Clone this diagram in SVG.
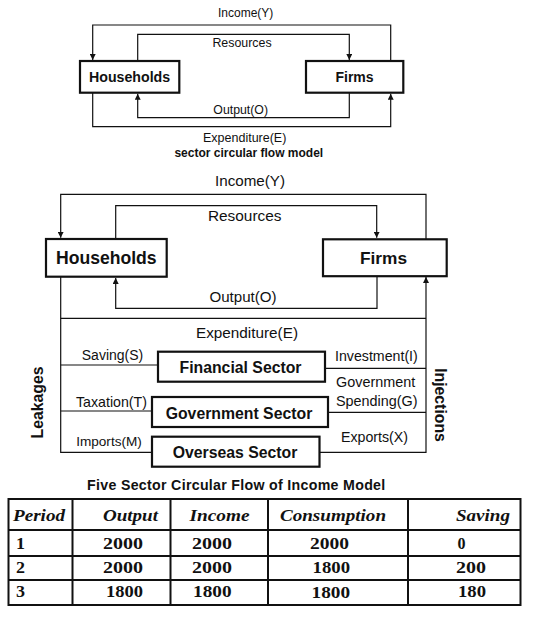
<svg xmlns="http://www.w3.org/2000/svg" width="535" height="623" viewBox="0 0 535 623">
<style>
.ln{fill:none;stroke:#111;stroke-width:1.2}
.bx{fill:#fff;stroke:#111;stroke-width:2.2}
.t{font-family:"Liberation Sans",Arial,sans-serif;fill:#111}
.b{font-weight:bold}
.tb{font-family:"Liberation Serif","Times New Roman",serif;font-weight:bold;fill:#111;font-size:16px}
.th{font-style:italic;font-size:17px}
.grid{stroke:#111;stroke-width:2;fill:none}
</style>
<defs>
<marker id="arr" viewBox="0 0 6 6" refX="6" refY="3" markerWidth="6" markerHeight="6" markerUnits="userSpaceOnUse" orient="auto">
<path d="M0,0 L6,3 L0,6 z" fill="#111"/>
</marker>
</defs>
<rect width="535" height="623" fill="#fff"/>

<g id="connectors">
<path class="ln" d="M390.7,61 V25 H92.7 V60" marker-end="url(#arr)"/>
<path class="ln" d="M137.7,61 V34.3 H349.3 V60" marker-end="url(#arr)"/>
<path class="ln" d="M349.3,92.7 V117.7 H137.7 V93.8" marker-end="url(#arr)"/>
<path class="ln" d="M92.7,92.7 V126.7 H390.7 V93.8" marker-end="url(#arr)"/>

<path class="ln" d="M426,239 V194.3 H60.7 V237.8" marker-end="url(#arr)"/>
<path class="ln" d="M115.7,239 V205.7 H376.7 V237.8" marker-end="url(#arr)"/>
<path class="ln" d="M377,276.7 V308.3 H115.7 V277.9" marker-end="url(#arr)"/>
<path class="ln" d="M60.7,276.7 V452.3 H426 V276.9" marker-end="url(#arr)"/>
<path class="ln" d="M60.7,318.3 H426"/>
<path class="ln" d="M60.7,365 H158"/>
<path class="ln" d="M60.7,411 H152"/>
<path class="ln" d="M324,368.3 H426"/>
<path class="ln" d="M328,412.3 H426"/>
</g>

<g id="top-title">
<text class="t" x="245.7" y="17.3" font-size="12" text-anchor="middle">Income(Y)</text>
<text class="t" x="242" y="46.7" font-size="12.4" text-anchor="middle">Resources</text>
<text class="t" x="240.7" y="114.3" font-size="12.3" text-anchor="middle">Output(O)</text>
<text class="t" x="244.7" y="141.7" font-size="12.5" text-anchor="middle">Expenditure(E)</text>
<text class="t b" x="248.8" y="156.7" font-size="12" text-anchor="middle">sector circular flow model</text>
</g>
<g id="top-households">
<rect class="bx" x="80" y="61" width="99.3" height="31.7"/>
<text class="t b" x="129.6" y="82.3" font-size="14.2" text-anchor="middle">Households</text>
</g>
<g id="top-firms">
<rect class="bx" x="306" y="61" width="97.3" height="31.7"/>
<text class="t b" x="354.5" y="82.3" font-size="14" text-anchor="middle">Firms</text>
</g>

<g id="mid-labels">
<text class="t" x="250" y="186" font-size="15.2" text-anchor="middle">Income(Y)</text>
<text class="t" x="244.7" y="220.5" font-size="15.4" text-anchor="middle">Resources</text>
<text class="t" x="243" y="302.3" font-size="15.1" text-anchor="middle">Output(O)</text>
<text class="t" x="247" y="338.3" font-size="15.3" text-anchor="middle">Expenditure(E)</text>
<text class="t" x="112.5" y="360" font-size="14" text-anchor="middle">Saving(S)</text>
<text class="t" x="111.5" y="406.5" font-size="14.2" text-anchor="middle">Taxation(T)</text>
<text class="t" x="109" y="446" font-size="13.6" text-anchor="middle">Imports(M)</text>
<text class="t" x="335" y="361" font-size="14.2">Investment(I)</text>
<text class="t" x="336" y="386.5" font-size="14.4">Government</text>
<text class="t" x="336" y="405.5" font-size="14.4">Spending(G)</text>
<text class="t" x="341" y="442" font-size="14.2">Exports(X)</text>
<text class="t b" x="43.3" y="402.5" font-size="15.8" text-anchor="middle" transform="rotate(-90 43.3 402.5)">Leakages</text>
<text class="t b" x="435" y="405" font-size="15.8" text-anchor="middle" transform="rotate(90 435 405)">Injections</text>
<text class="t b" x="236.3" y="489.5" font-size="14.2" letter-spacing="0.3" text-anchor="middle">Five Sector Circular Flow of Income Model</text>
</g>
<g id="mid-households">
<rect class="bx" x="46" y="239" width="120.7" height="37.7"/>
<text class="t b" x="106.3" y="264.3" font-size="17.6" text-anchor="middle">Households</text>
</g>
<g id="mid-firms">
<rect class="bx" x="323" y="239.3" width="123.7" height="36.9"/>
<text class="t b" x="383.5" y="264.3" font-size="17.3" text-anchor="middle">Firms</text>
</g>
<g id="financial-sector">
<rect class="bx" x="158" y="351.7" width="167" height="30"/>
<text class="t b" x="240.5" y="373.3" font-size="15.8" text-anchor="middle">Financial Sector</text>
</g>
<g id="government-sector">
<rect class="bx" x="152" y="397" width="176" height="30"/>
<text class="t b" x="239" y="418.5" font-size="15.8" text-anchor="middle">Government Sector</text>
</g>
<g id="overseas-sector">
<rect class="bx" x="152" y="436.7" width="167.5" height="30"/>
<text class="t b" x="235" y="458" font-size="15.8" text-anchor="middle">Overseas Sector</text>
</g>

<g id="table">
<rect class="grid" x="8.5" y="499" width="512" height="106"/>
<path class="grid" d="M8.5,530 H520.5 M8.5,556 H520.5 M8.5,580 H520.5 M72.5,499 V605 M170.5,499 V605 M268,499 V605 M408,499 V605"/>
<text class="tb th" x="13" y="521" textLength="52" lengthAdjust="spacingAndGlyphs">Period</text>
<text class="tb th" x="103" y="521" textLength="55" lengthAdjust="spacingAndGlyphs">Output</text>
<text class="tb th" x="189.5" y="521" textLength="60" lengthAdjust="spacingAndGlyphs">Income</text>
<text class="tb th" x="280" y="521" textLength="106" lengthAdjust="spacingAndGlyphs">Consumption</text>
<text class="tb th" x="456" y="521" textLength="54" lengthAdjust="spacingAndGlyphs">Saving</text>

<text class="tb" x="16" y="549.3" textLength="9" lengthAdjust="spacingAndGlyphs">1</text>
<text class="tb" x="103" y="549.3" textLength="40" lengthAdjust="spacingAndGlyphs">2000</text>
<text class="tb" x="192" y="549.3" textLength="40" lengthAdjust="spacingAndGlyphs">2000</text>
<text class="tb" x="310" y="549.3" textLength="39" lengthAdjust="spacingAndGlyphs">2000</text>
<text class="tb" x="457.5" y="549.3" textLength="8" lengthAdjust="spacingAndGlyphs">0</text>

<text class="tb" x="16" y="573.3" textLength="9" lengthAdjust="spacingAndGlyphs">2</text>
<text class="tb" x="103" y="573.3" textLength="40" lengthAdjust="spacingAndGlyphs">2000</text>
<text class="tb" x="192" y="573.3" textLength="40" lengthAdjust="spacingAndGlyphs">2000</text>
<text class="tb" x="312.5" y="573.3" textLength="37.5" lengthAdjust="spacingAndGlyphs">1800</text>
<text class="tb" x="456" y="573.3" textLength="30" lengthAdjust="spacingAndGlyphs">200</text>

<text class="tb" x="16" y="596.5" textLength="9" lengthAdjust="spacingAndGlyphs">3</text>
<text class="tb" x="106" y="596.5" textLength="37" lengthAdjust="spacingAndGlyphs">1800</text>
<text class="tb" x="193" y="596.5" textLength="38.5" lengthAdjust="spacingAndGlyphs">1800</text>
<text class="tb" x="311.5" y="598" textLength="38.5" lengthAdjust="spacingAndGlyphs">1800</text>
<text class="tb" x="458" y="596.5" textLength="28" lengthAdjust="spacingAndGlyphs">180</text>
</g>
</svg>
